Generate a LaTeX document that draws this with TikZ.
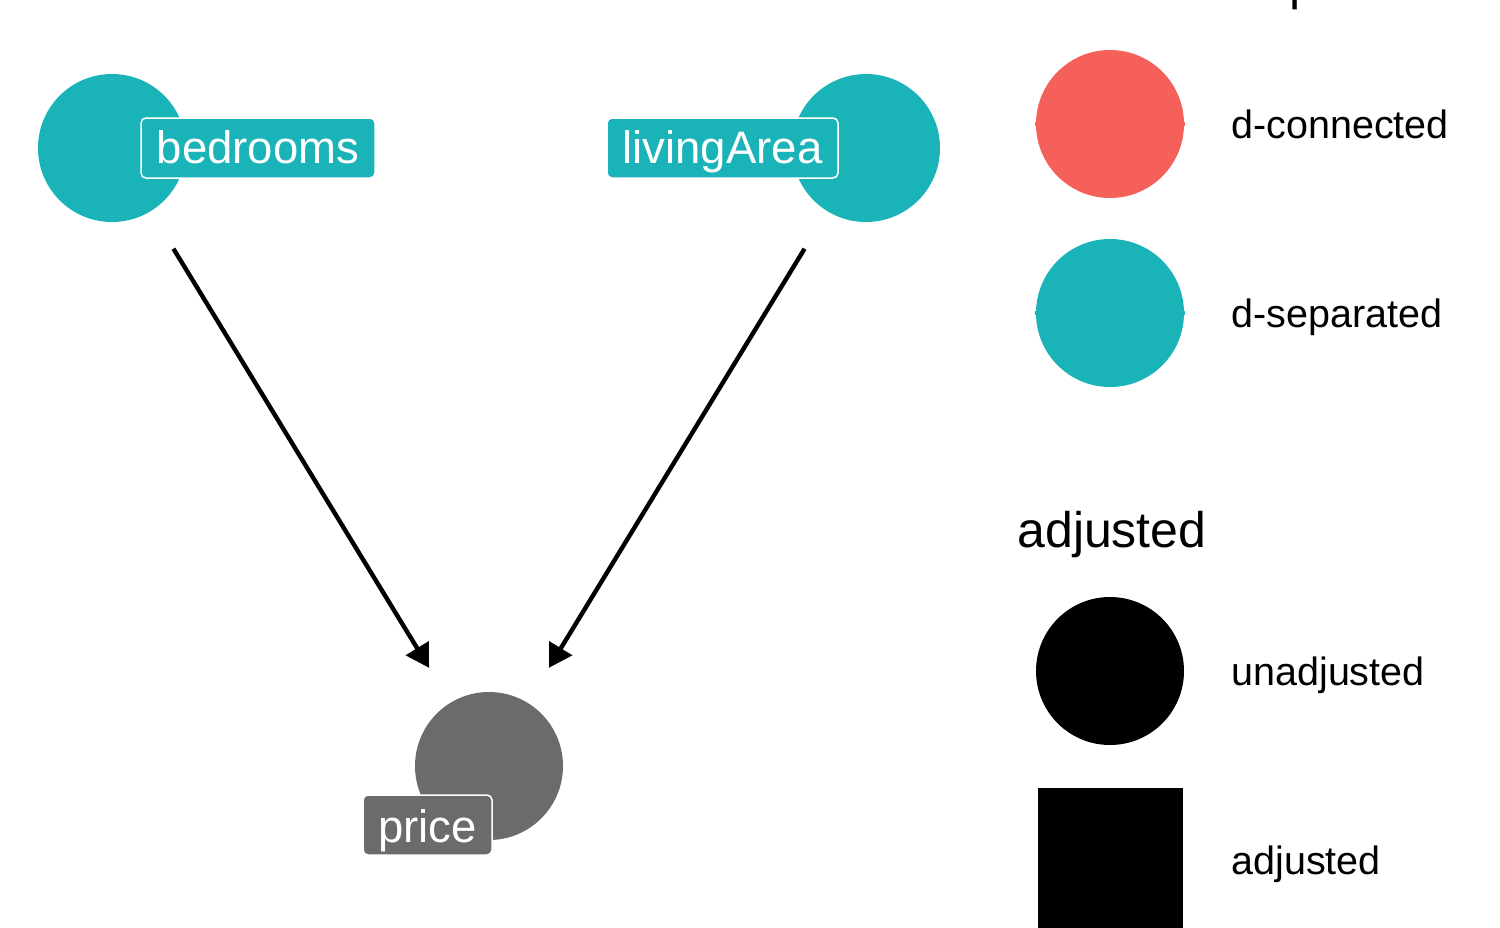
\documentclass[tikz,border=0pt]{standalone}
\usepackage{fontspec}
\setmainfont{Liberation Sans}
\usetikzlibrary{arrows.meta}
\definecolor{dteal}{RGB}{26,179,184}
\definecolor{dred}{RGB}{245,96,91}
\definecolor{dgray}{RGB}{107,107,107}
\begin{document}
\begin{tikzpicture}[x=0.5pt,y=-0.5pt,
  dagnode/.style={circle,minimum size=74pt,inner sep=0pt,fill=#1},
  daglabel/.style={rounded corners=2.5pt,fill=#1,draw=white,line width=0.75pt,
    text=white,inner sep=0pt,minimum height=30pt,
    font=\fontsize{22.75}{27}\selectfont,text height=16.4pt,text depth=1.4pt},
  dagedge/.style={line width=2.2pt,-{Triangle[length=11.5pt,width=13pt]}},
  legtext/.style={anchor=base west,inner sep=0pt,font=\fontsize{19.75}{24}\selectfont},
  legtitle/.style={anchor=base west,inner sep=0pt,font=\fontsize{25}{30}\selectfont},
  legkey/.style={circle,minimum size=74pt,inner sep=0pt,fill=#1}
]
\useasboundingbox (0,0) rectangle (1500,927);
\fill[white] (0,0) rectangle (1500,927);

% DAG nodes
\node[dagnode=dteal] (bed) at (112,148) {};
\node[dagnode=dteal] (liv) at (866,148) {};
\node[dagnode=dgray] (price) at (489,766) {};

\node[daglabel=dteal,minimum width=117pt] (bedL) at (258,148) {bedrooms};
\node[daglabel=dteal,minimum width=115.5pt] (livL) at (722.5,148) {livingArea};
\node[daglabel=dgray,minimum width=64.5pt,text height=17.5pt,text depth=0.5pt] (priceL) at (427.5,825) {price};

% edges
\draw[dagedge,shorten <=59pt,shorten >=57.5pt] (bed.center) -- (price.center);
\draw[dagedge,shorten <=59pt,shorten >=57.5pt] (liv.center) -- (price.center);

% legend 1
\node[legtitle] (t1) at (1017,-1) {d-relationship};
\coordinate (k1a) at (1035,124);
\coordinate (k1b) at (1185,124);
\draw[dred,line width=2pt] (k1a) -- (k1b);
\node[legkey=dred] (k1) at (1110,124) {};
\node[legtext] (l1) at (1231,138) {d-connected};
\coordinate (k2a) at (1035,313);
\coordinate (k2b) at (1185,313);
\draw[dteal,line width=2pt] (k2a) -- (k2b);
\node[legkey=dteal] (k2) at (1110,313) {};
\node[legtext] (l2) at (1231,327) {d-separated};

% legend 2
\node[legtitle] (t2) at (1017,547) {adjusted};
\node[legkey=black] (k3) at (1110,671) {};
\node[legtext] (l3) at (1231,685) {unadjusted};
\node[fill=black,minimum size=72.5pt,inner sep=0pt] (k4) at (1110.5,860) {};
\node[legtext] (l4) at (1231,874) {adjusted};
\end{tikzpicture}
\end{document}
